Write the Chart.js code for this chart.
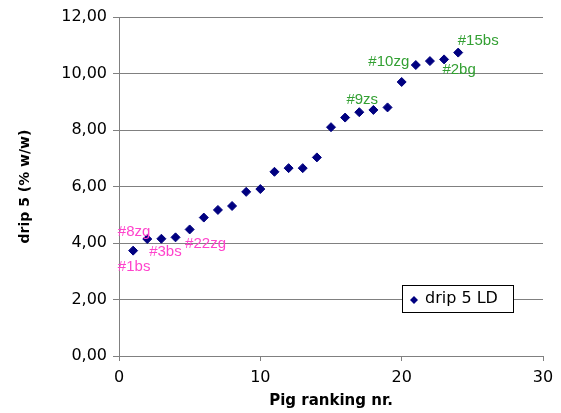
<!DOCTYPE html>
<html><head><meta charset="utf-8">
<script src="https://cdn.jsdelivr.net/npm/chart.js@4/dist/chart.umd.min.js"></script>
<style>html,body{margin:0;padding:0;background:#fff;}#wrap{width:561px;height:413px;}</style>
</head><body><div id="wrap"><canvas id="c" width="561" height="413"></canvas></div>
<script>
// ---- data ----
const pigRank = [1,2,3,4,5,6,7,8,9,10,11,12,13,14,15,16,17,18,19,20,21,22,23,24];
const drip5   = [3.73,4.14,4.15,4.20,4.48,4.90,5.17,5.31,5.81,5.91,6.52,6.65,6.65,7.03,8.10,8.44,8.63,8.71,8.80,9.70,10.30,10.44,10.50,10.74];
const seriesName = 'drip 5 LD';
const labelRanks = [1,1,3,4,17,21,23,24];
const labelTexts = ['#1bs','#8zg','#3bs','#22zg','#9zs','#10zg','#2bg','#15bs'];
const yMin = 0, yMax = 12, yStep = 2;
const xMin = 0, xMax = 30, xStep = 10;
const xTitle = 'Pig ranking nr.';
const yTitle = 'drip 5 (% w/w)';

// ---- styles / placement ----
const labelColors = ['#ff44cc','#ff44cc','#ff44cc','#ff44cc','#33a033','#33a033','#33a033','#33a033'];
const labelOffsets = [[1,16],[1,-19],[4,13],[30,7],[3,-12],[-27,-3],[15,10],[20,-12]];

const points = pigRank.map((r,i)=>({x:r,y:drip5[i]}));

const pointLabelPlugin = {
  id:'pointLabels',
  afterDatasetsDraw(chart){
    const ctx = chart.ctx, xs = chart.scales.x, ys = chart.scales.y;
    ctx.save();
    ctx.font = '15px "Liberation Sans", Arial, sans-serif';
    ctx.textAlign = 'center'; ctx.textBaseline = 'middle';
    labelTexts.forEach((t,i)=>{
      const r = labelRanks[i];
      const v = drip5[pigRank.indexOf(r)];
      const px = xs.getPixelForValue(r) + labelOffsets[i][0];
      const py = ys.getPixelForValue(v) + labelOffsets[i][1];
      ctx.fillStyle = labelColors[i];
      ctx.fillText(t, px, py);
    });
    ctx.restore();
  }
};

const boxLegendPlugin = {
  id:'boxLegend',
  afterDraw(chart){
    const ctx = chart.ctx;
    const bx = 402, by = 285, bw = 111, bh = 27;
    ctx.save();
    ctx.fillStyle = '#fff';
    ctx.fillRect(bx, by, bw, bh);
    ctx.strokeStyle = '#000'; ctx.lineWidth = 1;
    ctx.strokeRect(bx+0.5, by+0.5, bw, bh);
    const mx = 414, my = 300, r = 4;
    ctx.fillStyle = '#000080';
    ctx.beginPath();
    ctx.moveTo(mx, my-r); ctx.lineTo(mx+r, my); ctx.lineTo(mx, my+r); ctx.lineTo(mx-r, my); ctx.closePath();
    ctx.fill();
    ctx.fillStyle = '#000';
    ctx.font = '16px "DejaVu Sans", sans-serif';
    ctx.textAlign = 'left'; ctx.textBaseline = 'middle';
    ctx.fillText(chart.data.datasets[0].label, 425, 299);
    ctx.restore();
  }
};

new Chart(document.getElementById('c'), {
  type:'scatter',
  data:{datasets:[{
    label: seriesName,
    data: points,
    pointStyle:'rectRot',
    pointRadius:4.5,
    pointBorderWidth:1,
    backgroundColor:'#000080',
    borderColor:'#000080',
    showLine:false
  }]},
  options:{
    responsive:false,
    devicePixelRatio:1,
    animation:false,
    layout:{padding:{top:17,right:18,left:0,bottom:0}},
    plugins:{legend:{display:false},tooltip:{enabled:false}},
    scales:{
      x:{
        type:'linear', min:xMin, max:xMax,
        ticks:{stepSize:xStep, color:'#000', padding:7, font:{family:'"DejaVu Sans", sans-serif', size:16}},
        grid:{drawOnChartArea:false, drawTicks:true, tickLength:5, color:'#808080'},
        border:{color:'#808080'},
        title:{display:true, text:xTitle, color:'#000', padding:{top:0,bottom:3}, font:{family:'"DejaVu Sans", sans-serif', size:15, weight:'bold'}},
        afterFit(s){ s.height = 57; }
      },
      y:{
        type:'linear', min:yMin, max:yMax,
        ticks:{stepSize:yStep, color:'#000', padding:6, font:{family:'"DejaVu Sans", sans-serif', size:16},
          callback:v=>v.toFixed(2).replace('.',',')},
        grid:{color:'#808080', tickLength:6},
        border:{color:'#808080'},
        title:{display:true, text:yTitle, color:'#000', padding:{top:17,bottom:0}, font:{family:'"DejaVu Sans", sans-serif', size:14, weight:'bold'}},
        afterFit(s){ s.width = 119; }
      }
    }
  },
  plugins:[pointLabelPlugin, boxLegendPlugin]
});
</script></body></html>
